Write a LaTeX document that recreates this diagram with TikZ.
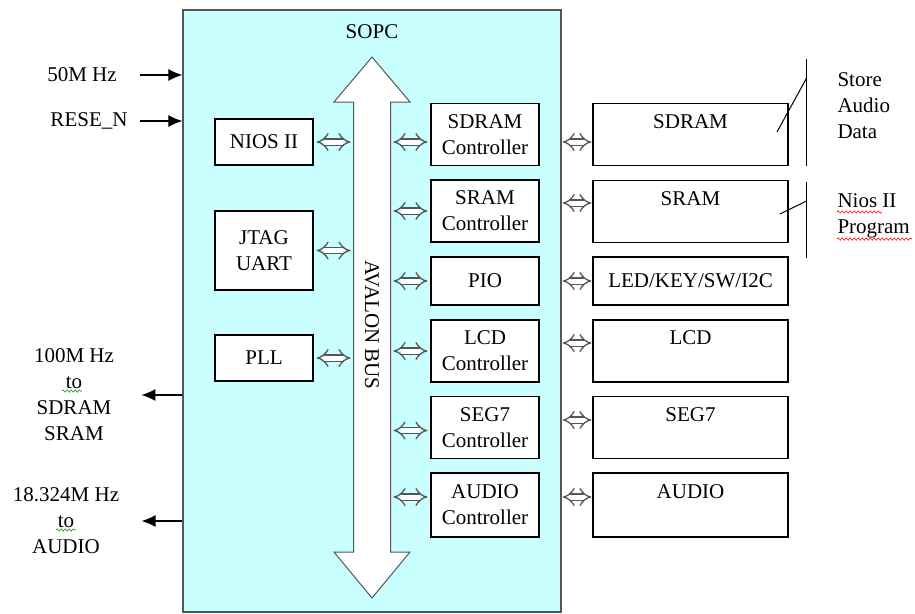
\documentclass[tikz,border=0pt]{standalone}
\usepackage{fontspec}
\setmainfont{Liberation Serif}
\usepackage{tikz}
\usetikzlibrary{arrows.meta,decorations.pathmorphing}
\definecolor{sopcbg}{RGB}{202,255,255}
\definecolor{busline}{RGB}{85,85,85}
\def\ctl{Controller}

\begin{document}
\begin{tikzpicture}[x=1pt,y=-1pt,line width=1pt,
    sig/.style={line width=1.2pt,-{Latex[length=14pt,width=12pt]}},
    box/.style={draw,fill=white,line width=1.2pt,inner sep=0pt,align=center,minimum width=108pt,minimum height=62pt},
    dev/.style={box,minimum width=195pt},
    lbl/.style={inner sep=0pt,align=center},
    biarrow/.style={draw=busline,double=white,double distance=5pt,line width=1.3pt,{Implies[length=7pt]}-{Implies[length=7pt]},shorten >=3pt,shorten <=3pt},
    squig/.style={line width=0.6pt,decorate,decoration={snake,amplitude=1.1pt,segment length=4pt}},
    font=\fontsize{21}{26}\selectfont]
    \useasboundingbox (0,0) rectangle (915,613);

    % SOPC frame
    \node[draw=busline,fill=sopcbg,line width=1.3pt,minimum width=378pt,minimum height=602pt,inner sep=0pt] (sopc) at (372,311) {};
    \node[lbl] (sopctitle) at (372,32) {SOPC};

    % avalon bus
    \draw[busline,fill=white,line width=1pt] (372,57) -- (410,102) -- (390.5,102) -- (390.5,552) -- (410,552)
        -- (372,598) -- (334,552) -- (353.5,552) -- (353.5,102) -- (334,102) -- cycle;
    \node[lbl,rotate=-90] (avalon) at (372,325) {AVALON BUS};
    \coordinate (busl) at (353.5,0);
    \coordinate (busr) at (390.5,0);

    % masters
    \node[box,minimum width=98pt,minimum height=46pt] (nios) at (264,142) {NIOS II};
    \node[box,minimum width=98pt,minimum height=79pt] (jtag) at (264,250.5) {JTAG\\UART};
    \node[box,minimum width=98pt,minimum height=46pt] (pll) at (264,358) {PLL};

    % controllers
    \node[box] (sdramc) at (485,134.5) {SDRAM\\\ctl};
    \node[box] (sramc) at (485,211) {SRAM\\\ctl};
    \node[box,minimum height=48pt] (pio) at (485,281) {PIO};
    \node[box] (lcdc) at (485,351) {LCD\\\ctl};
    \node[box] (seg7c) at (485,427.5) {SEG7\\\ctl};
    \node[box,minimum height=64pt] (audioc) at (485,505) {AUDIO\\\ctl};

    % devices
    \node[dev] (sdram) at (690.5,134.5) {SDRAM\\~};
    \node[dev] (sram) at (690.5,211.5) {SRAM\\~};
    \node[dev,minimum height=48pt] (led) at (690.5,281) {LED/KEY/SW/I2C};
    \node[dev] (lcd) at (690.5,351) {LCD\\~};
    \node[dev] (seg7) at (690.5,427.5) {SEG7\\~};
    \node[dev,minimum height=64pt] (audio) at (690.5,505) {AUDIO\\~};

    % bus links
    \draw[biarrow] (nios.east) -- (nios.east -| busl);
    \draw[biarrow] (jtag.east) -- (jtag.east -| busl);
    \draw[biarrow] (pll.east) -- (pll.east -| busl);
    \draw[biarrow] (sdramc.west |- 0,142) -- (busr |- 0,142);
    \draw[biarrow] (sramc.west) -- (sramc.west -| busr);
    \draw[biarrow] (pio.west) -- (pio.west -| busr);
    \draw[biarrow] (lcdc.west) -- (lcdc.west -| busr);
    \draw[biarrow] ([yshift=-3pt]seg7c.west) -- ([yshift=-3pt]seg7c.west -| busr);
    \draw[biarrow] (audioc.west |- 0,497) -- (busr |- 0,497);

    % off-chip links
    \draw[biarrow,shorten <=1pt,shorten >=1pt] (sdram.west |- 0,142) -- (sopc.east |- 0,142);
    \draw[biarrow,shorten <=1pt,shorten >=1pt] (sram.west |- 0,203) -- (sopc.east |- 0,203);
    \draw[biarrow,shorten <=1pt,shorten >=1pt] (led.west) -- (led.west -| sopc.east);
    \draw[biarrow,shorten <=1pt,shorten >=1pt] (lcd.west |- 0,343) -- (sopc.east |- 0,343);
    \draw[biarrow,shorten <=1pt,shorten >=1pt] (seg7.west |- 0,420) -- (sopc.east |- 0,420);
    \draw[biarrow,shorten <=1pt,shorten >=1pt] (audio.west |- 0,497) -- (sopc.east |- 0,497);

    % memory notes
    \node[lbl,align=left,anchor=west] (store) at (837,106) {Store\\Audio\\Data};
    \node[lbl,align=left,anchor=west] (prog) at (837,216) {Nios II\\Program};
    \draw (sdram.south east) ++(18,0) coordinate (brk1) -- ++(0,-107);
    \draw (777,132) -- (brk1 |- 0,78);
    \draw (sram.south east) ++(18,15) coordinate (brk2) -- ++(0,-76);
    \draw (780,214) -- (brk2 |- 0,201);
    \draw[squig,red] (837,212) -- (882,212);
    \draw[squig,red] (837,239) -- (912,239);

    % clocks and reset
    \node[lbl] (clk50) at (82,75) {50M Hz};
    \node[lbl] (rst) at (89,121) {RESE\_N};
    \draw[sig] ([xshift=23pt]clk50.east) -- (clk50.east -| sopc.west);
    \draw[sig] ([xshift=12pt]rst.east) -- (rst.east -| sopc.west);
    \node[lbl] (clk100) at (74,395) {100M Hz\\to\\SDRAM\\SRAM};
    \node[lbl] (clkaud) at (66,521) {18.324M Hz\\to\\AUDIO};
    \draw[sig] (clk100.east -| sopc.west) -- ([xshift=27pt]clk100.east);
    \draw[sig] (clkaud.east -| sopc.west) -- ([xshift=22pt]clkaud.east);
    \draw[squig,green!60!black] (62,391) -- (82,391);
    \draw[squig,green!60!black] (56,530) -- (76,530);
\end{tikzpicture}
\end{document}
